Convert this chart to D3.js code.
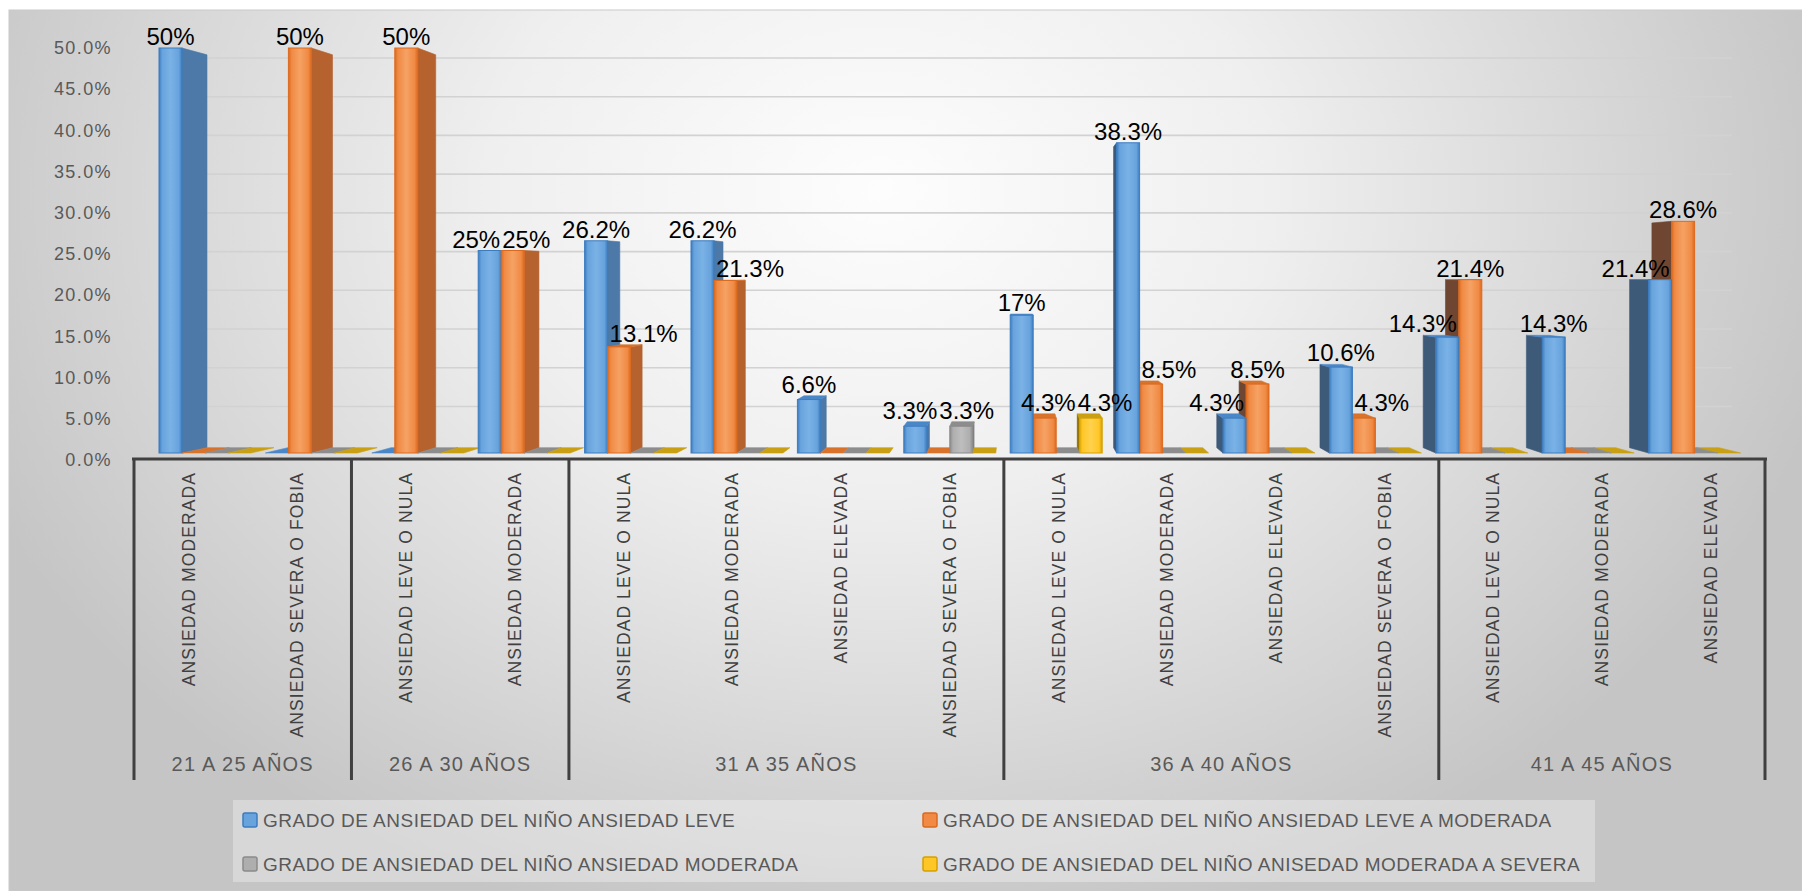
<!DOCTYPE html>
<html>
<head>
<meta charset="utf-8">
<script src="https://cdn.jsdelivr.net/npm/d3@7/dist/d3.min.js"></script>
<style>
  body { margin: 0; background: #fff; }
  svg { display: block; }
</style>
</head>
<body>
<script>
// chart size
var width = 1802, height = 891;

// data
var groups = ["21 A 25 AÑOS", "26 A 30 AÑOS", "31 A 35 AÑOS", "36 A 40 AÑOS", "41 A 45 AÑOS"];
var groupSizes = [2, 2, 4, 4, 3];
var categories = [
  "ANSIEDAD MODERADA", "ANSIEDAD SEVERA O FOBIA",
  "ANSIEDAD LEVE O NULA", "ANSIEDAD MODERADA",
  "ANSIEDAD LEVE O NULA", "ANSIEDAD MODERADA", "ANSIEDAD ELEVADA", "ANSIEDAD SEVERA O FOBIA",
  "ANSIEDAD LEVE O NULA", "ANSIEDAD MODERADA", "ANSIEDAD ELEVADA", "ANSIEDAD SEVERA O FOBIA",
  "ANSIEDAD LEVE O NULA", "ANSIEDAD MODERADA", "ANSIEDAD ELEVADA"
];
var seriesNames = [
  "GRADO DE ANSIEDAD DEL NIÑO ANSIEDAD LEVE",
  "GRADO DE ANSIEDAD DEL NIÑO ANSIEDAD LEVE A MODERADA",
  "GRADO DE ANSIEDAD DEL NIÑO ANSIEDAD MODERADA",
  "GRADO DE ANSIEDAD DEL NIÑO ANISEDAD MODERADA A SEVERA"
];
var leve           = [50, 0, 0, 25, 26.2, 26.2, 6.6, 3.3, 17, 38.3, 4.3, 10.6, 14.3, 14.3, 21.4];
var leveModerada   = [0, 50, 50, 25, 13.1, 21.3, 0, 0, 4.3, 8.5, 8.5, 4.3, 21.4, 0, 28.6];
var moderada       = [0, 0, 0, 0, 0, 0, 0, 3.3, 0, 0, 0, 0, 0, 0, 0];
var moderadaSevera = [0, 0, 0, 0, 0, 0, 0, 0, 4.3, 0, 0, 0, 0, 0, 0];
var yTicks = [0, 5, 10, 15, 20, 25, 30, 35, 40, 45, 50];

var allSeries = [leve, leveModerada, moderada, moderadaSevera];

// colours per series: front edge, front body, front highlight, right side, left side, top
var palette = [
  {edge: "#3b7cc0", body: "#68a3dd", hi: "#7ab2e6", rside: "#4c79a7", lside: "#3d5a79", top: "#4a87c7"},
  {edge: "#dc6a1e", body: "#f08a44", hi: "#f5a264", rside: "#b5622e", lside: "#6f4631", top: "#d9722a"},
  {edge: "#8a8a8a", body: "#aeaeae", hi: "#bebebe", rside: "#7c7c7c", lside: "#5e5e5e", top: "#8d8d8d"},
  {edge: "#d6a000", body: "#ffc628", hi: "#ffd24d", rside: "#b88f00", lside: "#806400", top: "#c9a013"}
];

// perspective centre and depths
var Vx = 1015, Vy = 275;
var barDepth = 0.97, wallDepth = 0.956;
function proj(x, y, s) { return [Vx + s * (x - Vx), Vy + s * (y - Vy)]; }

var svg = d3.select("body").append("svg")
    .attr("width", width)
    .attr("height", height);

var defs = svg.append("defs");

var bg = defs.append("radialGradient")
    .attr("id", "bg")
    .attr("gradientUnits", "userSpaceOnUse")
    .attr("cx", 0).attr("cy", 0).attr("r", 1)
    .attr("gradientTransform", "translate(880,190) scale(980,760)");
bg.append("stop").attr("offset", 0).attr("stop-color", "#fdfdfd");
bg.append("stop").attr("offset", 0.4).attr("stop-color", "#efefef");
bg.append("stop").attr("offset", 0.8).attr("stop-color", "#d3d3d3");
bg.append("stop").attr("offset", 1).attr("stop-color", "#c5c5c5");

palette.forEach(function(p, i) {
  var g = defs.append("linearGradient").attr("id", "front" + i)
      .attr("x1", 0).attr("x2", 1).attr("y1", 0).attr("y2", 0);
  g.append("stop").attr("offset", 0).attr("stop-color", p.edge);
  g.append("stop").attr("offset", 0.14).attr("stop-color", p.body);
  g.append("stop").attr("offset", 0.5).attr("stop-color", p.hi);
  g.append("stop").attr("offset", 0.86).attr("stop-color", p.body);
  g.append("stop").attr("offset", 1).attr("stop-color", p.edge);
});

// chart area
svg.append("rect")
    .attr("x", 9).attr("y", 10)
    .attr("width", width - 9).attr("height", height - 10)
    .attr("fill", "url(#bg)")
    .attr("stroke", "#c9c9c9");

// scales
var idx = d3.range(categories.length);
var xAxisBand = d3.scaleBand().domain(idx).range([134, 1765]);
var xBar = d3.scaleBand().domain(idx).range([152, 1748]);
var xSer = d3.scaleBand().domain(d3.range(4)).range([7, 99]);
var yBar = d3.scaleLinear().domain([0, 50]).range([453, 48]);
var yLab = d3.scaleLinear().domain([0, 50]).range([460, 48]);

// back wall gridlines
var wallL = proj(xAxisBand.range()[0], 0, wallDepth)[0];
var wallR = proj(xAxisBand.range()[1], 0, wallDepth)[0];
svg.append("g").selectAll("line")
    .data(yTicks.filter(function(d) { return d > 0; }))
  .enter().append("line")
    .attr("x1", wallL).attr("x2", wallR)
    .attr("y1", function(d) { return proj(0, yBar(d), wallDepth)[1]; })
    .attr("y2", function(d) { return proj(0, yBar(d), wallDepth)[1]; })
    .attr("stroke", "#d2d2d2")
    .attr("stroke-width", 1.6);

// y axis labels
var yAxis = d3.axisLeft(yLab)
    .tickValues(yTicks)
    .tickSize(0)
    .tickPadding(0)
    .tickFormat(function(d) { return d.toFixed(1) + "%"; });
var ya = svg.append("g")
    .attr("transform", "translate(112,0)")
    .call(yAxis);
ya.select(".domain").remove();
ya.selectAll("text")
    .attr("fill", "#595959")
    .style("font-family", "'Liberation Sans', Arial, sans-serif")
    .style("font-size", "18px")
    .style("letter-spacing", "1.4px");

// bars in pseudo 3D
var bars = [];
allSeries.forEach(function(vals, si) {
  vals.forEach(function(v, ci) { bars.push({ci: ci, si: si, v: v}); });
});
bars.forEach(function(b) {
  b.x0 = xBar(b.ci) + xSer(b.si);
  b.x1 = b.x0 + xSer.bandwidth();
  b.yt = yBar(b.v);
  b.yb = yBar(0);
});
bars.sort(function(a, b) {
  return Math.abs((b.x0 + b.x1) / 2 - Vx) - Math.abs((a.x0 + a.x1) / 2 - Vx);
});

var barG = svg.append("g");
bars.forEach(function(b) {
  var p = palette[b.si];
  var g = barG.append("g");
  var bt0 = proj(b.x0, b.yt, barDepth), bt1 = proj(b.x1, b.yt, barDepth);
  var bb0 = proj(b.x0, b.yb, barDepth), bb1 = proj(b.x1, b.yb, barDepth);
  if (b.v > 0 && b.x1 < Vx) {
    g.append("polygon")
        .attr("points", [[b.x1, b.yt], bt1, bb1, [b.x1, b.yb]].join(" "))
        .attr("fill", p.rside).attr("stroke", p.rside).attr("stroke-width", 0.6);
  } else if (b.v > 0 && b.x0 > Vx) {
    g.append("polygon")
        .attr("points", [[b.x0, b.yt], bt0, bb0, [b.x0, b.yb]].join(" "))
        .attr("fill", p.lside).attr("stroke", p.lside).attr("stroke-width", 0.6);
  }
  if (b.yt > Vy) {
    g.append("polygon")
        .attr("points", [[b.x0, b.yt], [b.x1, b.yt], bt1, bt0].join(" "))
        .attr("fill", p.top).attr("stroke", p.top).attr("stroke-width", 0.6);
  }
  if (b.v > 0) {
    g.append("rect")
        .attr("x", b.x0).attr("y", b.yt)
        .attr("width", b.x1 - b.x0).attr("height", b.yb - b.yt)
        .attr("fill", "url(#front" + b.si + ")")
        .attr("stroke", p.edge).attr("stroke-width", 1);
  }
});

// data labels
var fmt = function(v) { return (v % 1 === 0 ? d3.format("d")(v) : d3.format(".1f")(v)) + "%"; };
var shown = bars.filter(function(b) { return b.v > 0; })
    .sort(function(a, b) { return a.x0 - b.x0; });
var labels = svg.append("g").selectAll("text")
    .data(shown)
  .enter().append("text")
    .attr("text-anchor", "middle")
    .attr("fill", "#000")
    .style("font-family", "'Liberation Sans', Arial, sans-serif")
    .style("font-size", "24px")
    .text(function(b) { return fmt(b.v); });

// place labels above the bar, then nudge them off taller neighbours and each other
var lh = 17;
labels.each(function(b) {
  b.lw = this.getComputedTextLength();
  b.lx = (b.x0 + b.x1) / 2;
  b.ly = Math.min(b.yt, proj(0, b.yt, barDepth)[1]) - 3;
});
shown.forEach(function(b) {
  shown.forEach(function(o) {
    if (o === b || o.ci !== b.ci || o.v <= b.v) return;
    if (b.ly - lh > o.yb || b.ly < o.yt) return;
    if (o.x0 >= b.x1 - 1) {
      var ov = b.lx + b.lw / 2 - o.x0;
      if (ov > 0) b.lx -= ov + 2;
    } else if (o.x1 <= b.x0 + 1) {
      var ov2 = o.x1 - (b.lx - b.lw / 2);
      if (ov2 > 0) b.lx += ov2 + 2;
    }
  });
});
for (var it = 0; it < 20; it++) {
  for (var i = 0; i < shown.length; i++) {
    for (var j = i + 1; j < shown.length; j++) {
      var a = shown[i], c = shown[j];
      if (Math.abs(a.ly - c.ly) >= lh) continue;
      var gap = (a.lw + c.lw) / 2 + 2 - Math.abs(c.lx - a.lx);
      if (gap > 0) { a.lx -= gap / 2; c.lx += gap / 2; }
    }
  }
}
labels
    .attr("x", function(b) { return b.lx; })
    .attr("y", function(b) { return b.ly; });

// category axis
svg.append("line")
    .attr("x1", xAxisBand.range()[0] - 2).attr("x2", xAxisBand.range()[1] + 2)
    .attr("y1", 459).attr("y2", 459)
    .attr("stroke", "#404040").attr("stroke-width", 3);

var bounds = [0];
groupSizes.forEach(function(n, i) { bounds.push(bounds[i] + n); });
function edgeX(i) { return i >= categories.length ? xAxisBand.range()[1] : xAxisBand(i); }

svg.append("g").selectAll("line")
    .data(bounds)
  .enter().append("line")
    .attr("x1", edgeX).attr("x2", edgeX)
    .attr("y1", 459).attr("y2", 780)
    .attr("stroke", "#404040").attr("stroke-width", 3);

svg.append("g").selectAll("text")
    .data(idx)
  .enter().append("text")
    .attr("transform", function(i) {
      return "translate(" + (xAxisBand(i) + xAxisBand.bandwidth() / 2) + ",472) rotate(-90)";
    })
    .attr("dy", "0.36em")
    .attr("text-anchor", "end")
    .attr("fill", "#404040")
    .style("font-family", "'Liberation Sans', Arial, sans-serif")
    .style("font-size", "17.5px")
    .style("letter-spacing", "1.1px")
    .text(function(i) { return categories[i]; });

svg.append("g").selectAll("text")
    .data(groups)
  .enter().append("text")
    .attr("x", function(d, i) { return (edgeX(bounds[i]) + edgeX(bounds[i + 1])) / 2; })
    .attr("y", 771)
    .attr("text-anchor", "middle")
    .attr("fill", "#595959")
    .style("font-family", "'Liberation Sans', Arial, sans-serif")
    .style("font-size", "20px")
    .style("letter-spacing", "1.2px")
    .text(function(d) { return d; });

// legend
var legend = svg.append("g");
legend.append("rect")
    .attr("x", 233).attr("y", 800)
    .attr("width", 1362).attr("height", 82)
    .attr("fill", "#ffffff").attr("fill-opacity", 0.32);

var legCols = [243, 923], legRows = [813, 857];
var item = legend.selectAll("g.item")
    .data(seriesNames)
  .enter().append("g")
    .attr("class", "item")
    .attr("transform", function(d, i) {
      return "translate(" + legCols[i % 2] + "," + legRows[Math.floor(i / 2)] + ")";
    });
item.append("rect")
    .attr("width", 14).attr("height", 14)
    .attr("rx", 2)
    .attr("fill", function(d, i) { return palette[i].body; })
    .attr("stroke", function(d, i) { return palette[i].edge; })
    .attr("stroke-width", 1.5);
item.append("text")
    .attr("x", 20).attr("y", 14)
    .attr("fill", "#595959")
    .style("font-family", "'Liberation Sans', Arial, sans-serif")
    .style("font-size", "19px")
    .style("letter-spacing", "0.5px")
    .text(function(d) { return d; });
</script>
</body>
</html>
